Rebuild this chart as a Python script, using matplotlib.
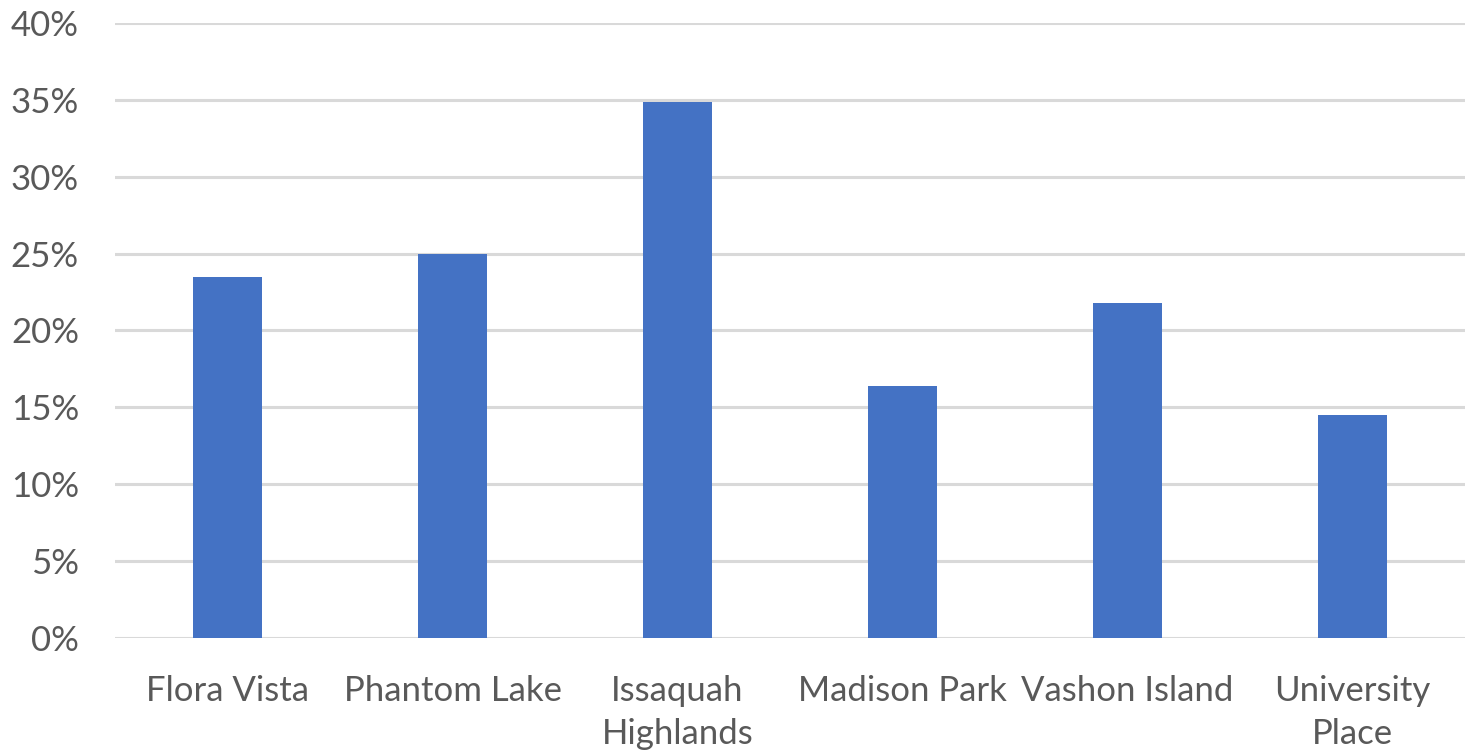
import matplotlib.pyplot as plt
from matplotlib.ticker import MultipleLocator, FuncFormatter

categories = ["Flora Vista", "Phantom Lake", "Issaquah\nHighlands",
              "Madison Park", "Vashon Island", "University\nPlace"]
values = [23.5, 25.0, 34.85, 16.35, 21.8, 14.5]

plt.rcParams['font.family'] = ['Lato', 'DejaVu Sans']

fig = plt.figure(figsize=(14.65, 7.53), dpi=100)
ax = fig.add_axes([115 / 1465, 115.3 / 753, 1350 / 1465, 614.7 / 753])

x = range(len(categories))
ax.bar(x, values, width=0.31, color="#4472C4", zorder=3)

ax.set_xlim(-0.5, len(categories) - 0.5)
ax.set_ylim(0, 40)
ax.yaxis.set_major_locator(MultipleLocator(5))
ax.yaxis.set_major_formatter(FuncFormatter(lambda v, _: f"{v:.0f}%"))
ax.grid(axis="y", color="#D9D9D9", linewidth=2.2, zorder=0)
ax.set_axisbelow(True)

for s in ax.spines.values():
    s.set_visible(False)

ax.set_xticks(list(x))
ax.set_xticklabels(categories, linespacing=1.45)
ax.tick_params(axis="both", length=0, labelsize=25, labelcolor="#595959")
ax.tick_params(axis="x", pad=26.5)
ax.tick_params(axis="y", pad=26)

fig.savefig("out.png", dpi=100)
